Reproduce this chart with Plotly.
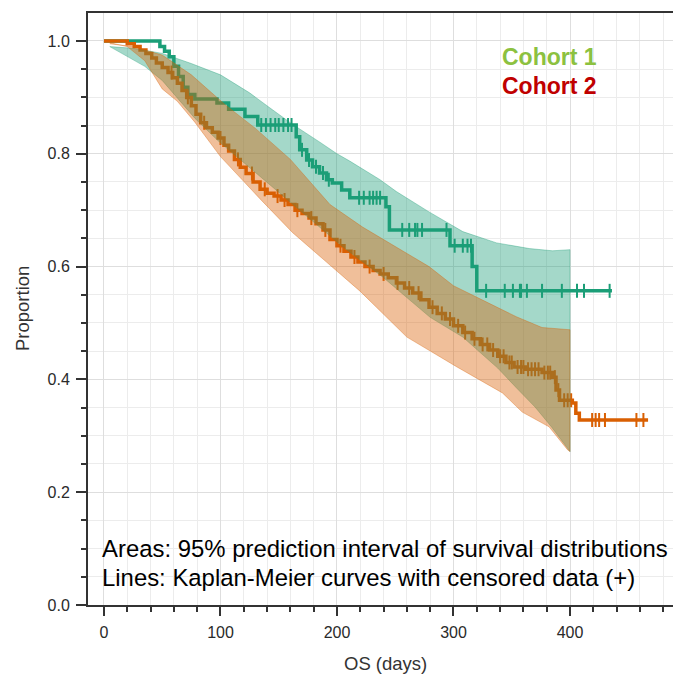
import numpy as np
import plotly.graph_objects as go

# ---------------- data ----------------
# Cohort 1 Kaplan-Meier steps (time in days, survival proportion)
km1_time = [0, 48, 52, 56, 60, 64, 68, 72, 78, 97, 107, 121, 132, 165, 168, 174, 179, 185, 191, 196, 204, 211, 242, 245, 297, 316, 320, 436]
km1_surv = [1.0, 0.99, 0.982, 0.972, 0.955, 0.937, 0.918, 0.905, 0.897, 0.89, 0.879, 0.866, 0.851, 0.83, 0.807, 0.789, 0.777, 0.766, 0.754, 0.748, 0.736, 0.722, 0.706, 0.665, 0.637, 0.60, 0.557, 0.557]
km1_censor = [135, 139, 143, 147, 150, 154, 158, 161, 170, 176, 182, 188, 193, 219, 223, 228, 231, 234, 237,
              256, 262, 267, 269, 273, 294, 301, 308, 312, 315, 328, 344, 351, 357, 358, 363, 376, 393, 406, 412, 434]

# Cohort 2 Kaplan-Meier steps
km2_time = [0, 20, 26, 31, 36, 41, 45, 50, 55, 59, 63, 67, 71, 75, 79, 83, 88, 93, 98, 103,
            107, 112, 117, 122, 128, 134, 140, 146, 152, 158, 164, 170, 176, 182, 188, 194, 200, 206, 212, 218,
            224, 231, 237, 244, 251, 258, 265, 272, 279, 286, 293, 300, 308, 316, 323, 331, 338, 345, 352, 362,
            376, 385, 388, 391, 402, 405, 408, 467]
km2_surv = [1.0, 0.995, 0.99, 0.984, 0.978, 0.97, 0.961, 0.953, 0.944, 0.935, 0.925, 0.912, 0.90, 0.885, 0.87, 0.855, 0.846, 0.838, 0.828, 0.815,
            0.805, 0.79, 0.776, 0.765, 0.75, 0.737, 0.73, 0.725, 0.718, 0.71, 0.70, 0.694, 0.686, 0.676, 0.665, 0.648, 0.637, 0.627, 0.617, 0.608,
            0.6, 0.593, 0.587, 0.58, 0.571, 0.562, 0.553, 0.541, 0.528, 0.517, 0.507, 0.495, 0.483, 0.472, 0.462, 0.452, 0.441, 0.43, 0.422, 0.418,
            0.412, 0.404, 0.381, 0.363, 0.358, 0.34, 0.328, 0.328]
km2_censor = [58, 72, 86, 100, 115, 127, 138, 149, 155, 166, 178, 190, 203, 215, 228, 240, 252, 262, 270, 282,
              290, 297, 304, 310, 318, 325, 329, 334, 340, 343, 348, 350, 355, 358, 360, 364, 367, 370, 373, 378,
              381, 383, 387, 390, 395, 398, 401, 419, 422, 425, 430, 457, 463]

# 95% prediction interval bands
band1_up_x = [5, 25, 50, 75, 100, 125, 142, 162, 185, 200, 211, 237, 251, 279, 308, 337, 365, 385, 400]
band1_up_y = [0.99, 0.987, 0.978, 0.96, 0.94, 0.908, 0.882, 0.852, 0.821, 0.80, 0.787, 0.754, 0.733, 0.697, 0.662, 0.642, 0.632, 0.628, 0.63]
band1_lo_x = [5, 20, 35, 50, 78, 98, 130, 171, 205, 239, 260, 280, 308, 338, 354, 370, 384, 400]
band1_lo_y = [0.99, 0.972, 0.955, 0.93, 0.863, 0.823, 0.767, 0.695, 0.635, 0.582, 0.545, 0.51, 0.475, 0.42, 0.385, 0.351, 0.316, 0.272]

band2_up_x = [5, 25, 50, 75, 104, 130, 160, 194, 222, 251, 279, 300, 325, 354, 376, 400]
band2_up_y = [0.995, 0.99, 0.975, 0.94, 0.887, 0.845, 0.79, 0.71, 0.67, 0.635, 0.60, 0.566, 0.541, 0.511, 0.492, 0.488]
band2_lo_x = [5, 20, 35, 50, 63, 78, 100, 134, 162, 191, 220, 260, 303, 342, 359, 382, 398, 400]
band2_lo_y = [0.997, 0.99, 0.965, 0.915, 0.893, 0.856, 0.795, 0.72, 0.66, 0.608, 0.556, 0.475, 0.422, 0.376, 0.342, 0.316, 0.275, 0.272]

x_ticks = [0, 100, 200, 300, 400]
y_ticks = [0.0, 0.2, 0.4, 0.6, 0.8, 1.0]

C1 = "#1b9e77"
C2 = "#d95f02"
FONT = "Liberation Sans, Arial, sans-serif"


def km_at(times, surv, t):
    idx = np.searchsorted(np.asarray(times), np.asarray(t), side="right") - 1
    return np.asarray(surv)[idx]


fig = go.Figure()

# KM lines + censor marks (drawn below the translucent bands)
for times, surv, cens, col in [(km1_time, km1_surv, km1_censor, C1), (km2_time, km2_surv, km2_censor, C2)]:
    fig.add_trace(go.Scatter(x=times, y=surv, mode="lines",
                             line=dict(color=col, width=3.5, shape="hv"),
                             hoverinfo="skip", showlegend=False))
    fig.add_trace(go.Scatter(x=cens, y=km_at(times, surv, cens), mode="markers",
                             marker=dict(symbol="line-ns", size=10, color=col,
                                         line=dict(color=col, width=2)),
                             hoverinfo="skip", showlegend=False))

# bands
fig.add_trace(go.Scatter(x=band1_up_x + band1_lo_x[::-1], y=band1_up_y + band1_lo_y[::-1],
                         mode="lines", fill="toself", fillcolor="rgba(27,158,119,0.4)",
                         line=dict(color="rgba(27,158,119,0.45)", width=0.8),
                         hoverinfo="skip", showlegend=False))
fig.add_trace(go.Scatter(x=band2_up_x + band2_lo_x[::-1], y=band2_up_y + band2_lo_y[::-1],
                         mode="lines", fill="toself", fillcolor="rgba(217,95,2,0.4)",
                         line=dict(color="rgba(217,95,2,0.45)", width=0.8),
                         hoverinfo="skip", showlegend=False))

fig.update_layout(
    width=673, height=676,
    margin=dict(l=88, r=0, t=13, b=71),
    paper_bgcolor="white", plot_bgcolor="white",
    font=dict(family=FONT, color="#333"),
    showlegend=False,
)

fig.update_xaxes(
    range=[-13.7, 488.4], tickvals=x_ticks, ticks="outside", ticklen=9, tickwidth=1.5, tickcolor="#333",
    showline=True, linecolor="#333", linewidth=2, mirror=True,
    showgrid=True, gridcolor="#dedede", gridwidth=1, zeroline=False,
    tickfont=dict(size=16, color="#2a2a2a", family=FONT), ticklabelstandoff=3,
    minor=dict(dtick=20, tick0=0, ticks="outside", ticklen=5, tickwidth=1.5, tickcolor="#333",
               showgrid=True, gridcolor="#ececec", gridwidth=1),
)
fig.update_yaxes(
    range=[0, 1.0496], tickvals=y_ticks, tickformat=".1f", ticks="outside", ticklen=10, tickwidth=1.5, tickcolor="#333",
    showline=True, linecolor="#333", linewidth=2, mirror=False,
    showgrid=True, gridcolor="#dedede", gridwidth=1, zeroline=False,
    tickfont=dict(size=16, color="#2a2a2a", family=FONT), ticklabelstandoff=3,
    minor=dict(dtick=0.05, tick0=0, ticks="outside", ticklen=5, tickwidth=1.5, tickcolor="#333",
               showgrid=True, gridcolor="#ececec", gridwidth=1),
)

# axis titles
fig.add_annotation(text="Proportion", xref="paper", yref="paper", x=-0.1128, y=0.5,
                   xanchor="center", yanchor="middle", textangle=-90, showarrow=False,
                   font=dict(size=18.5, color="#333", family=FONT))
fig.add_annotation(text="OS (days)", xref="paper", yref="paper", x=0.5077, y=-0.098,
                   xanchor="center", yanchor="middle", showarrow=False,
                   font=dict(size=18.5, color="#333", family=FONT))

# legend labels
fig.add_annotation(text="<b>Cohort 1</b>", x=340, y=0.9716, xanchor="left", yanchor="middle",
                   showarrow=False, font=dict(size=23, color="#8cc140", family=FONT))
fig.add_annotation(text="<b>Cohort 2</b>", x=340, y=0.920, xanchor="left", yanchor="middle",
                   showarrow=False, font=dict(size=23, color="#c00000", family=FONT))

# explanatory text
fig.add_annotation(text="Areas: 95% prediction interval of survival distributions", x=-3.4, y=0.0993,
                   xanchor="left", yanchor="middle", showarrow=False,
                   font=dict(size=23.9, color="black", family=FONT))
fig.add_annotation(text="Lines: Kaplan-Meier curves with censored data (+)", x=-3.4, y=0.0479,
                   xanchor="left", yanchor="middle", showarrow=False,
                   font=dict(size=23.9, color="black", family=FONT))

fig.write_html("out.html")
